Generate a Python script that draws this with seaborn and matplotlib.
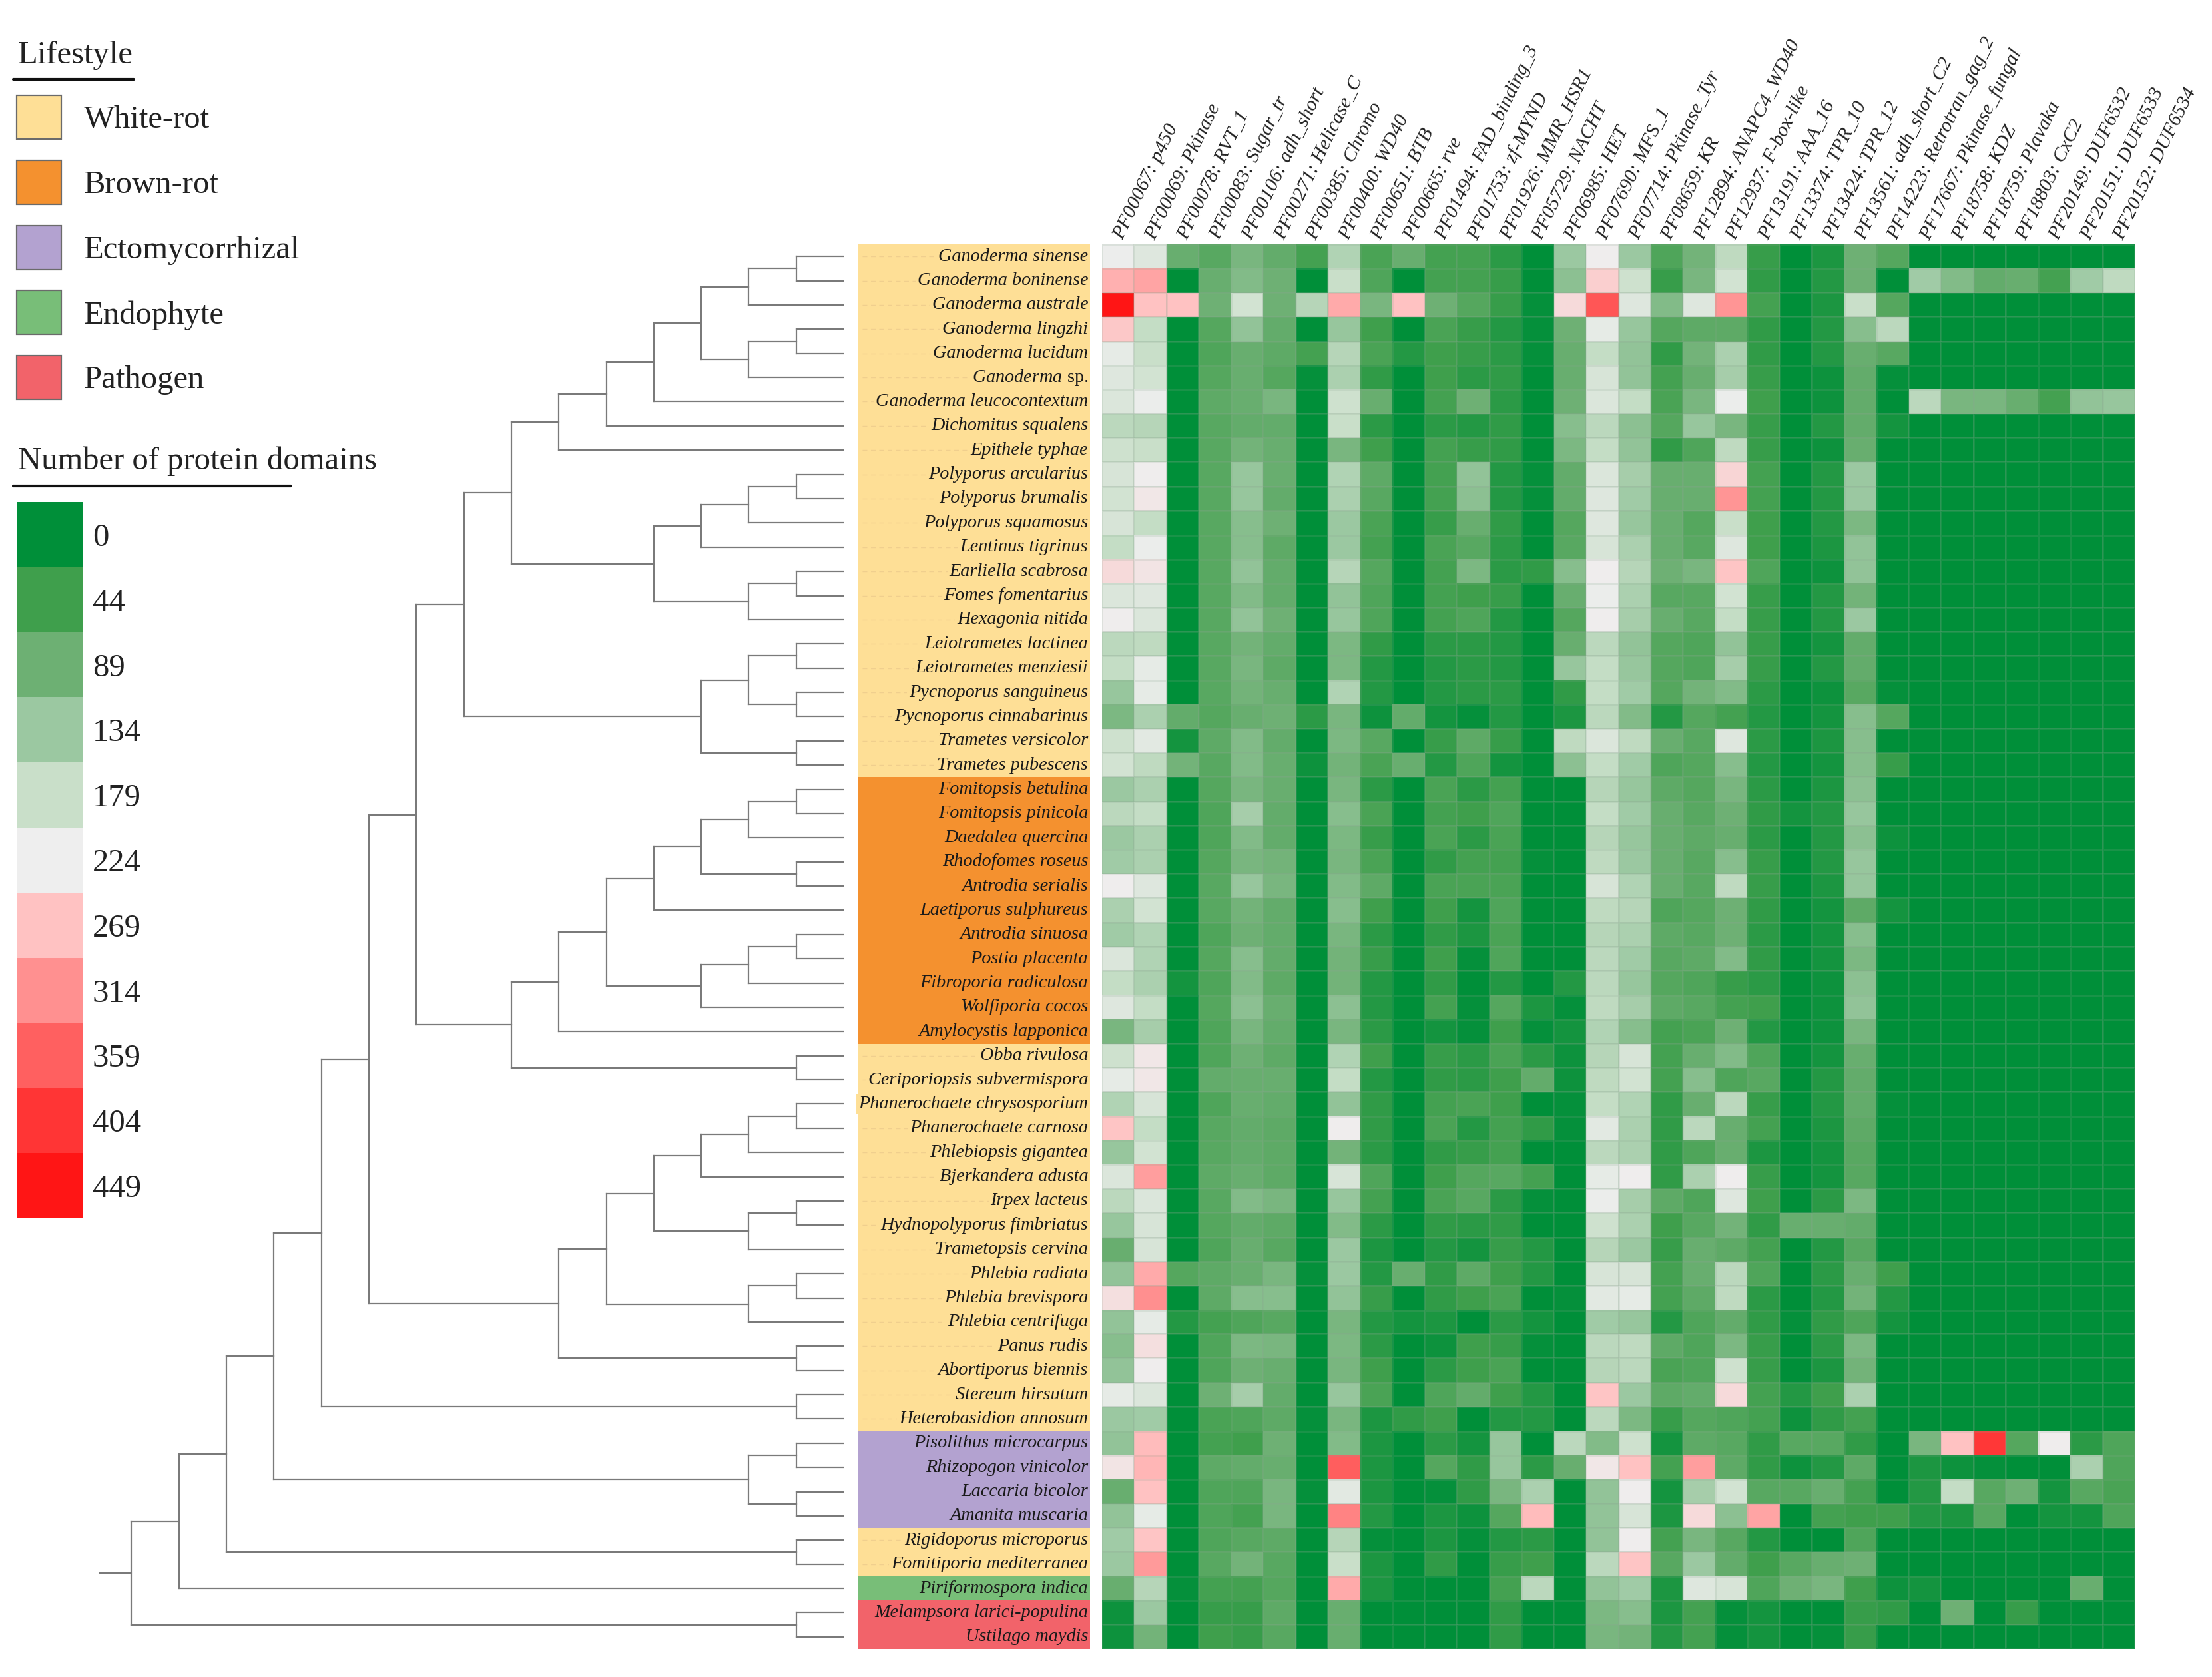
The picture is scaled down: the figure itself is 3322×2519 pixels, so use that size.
# Phylogeny + protein domain heatmap (seaborn)
import pandas as pd
import matplotlib
matplotlib.use('Agg')
import matplotlib.pyplot as plt
import seaborn as sns
from matplotlib.colors import LinearSegmentedColormap, ListedColormap
from matplotlib.patches import Rectangle

# ---------------------------------------------------------------------------
# DATA
# ---------------------------------------------------------------------------
species = [
    'Ganoderma sinense', 'Ganoderma boninense', 'Ganoderma australe', 'Ganoderma lingzhi',
    'Ganoderma lucidum', 'Ganoderma sp.', 'Ganoderma leucocontextum', 'Dichomitus squalens',
    'Epithele typhae', 'Polyporus arcularius', 'Polyporus brumalis', 'Polyporus squamosus',
    'Lentinus tigrinus', 'Earliella scabrosa', 'Fomes fomentarius', 'Hexagonia nitida',
    'Leiotrametes lactinea', 'Leiotrametes menziesii', 'Pycnoporus sanguineus',
    'Pycnoporus cinnabarinus', 'Trametes versicolor', 'Trametes pubescens',
    'Fomitopsis betulina', 'Fomitopsis pinicola', 'Daedalea quercina', 'Rhodofomes roseus',
    'Antrodia serialis', 'Laetiporus sulphureus', 'Antrodia sinuosa', 'Postia placenta',
    'Fibroporia radiculosa', 'Wolfiporia cocos', 'Amylocystis lapponica', 'Obba rivulosa',
    'Ceriporiopsis subvermispora', 'Phanerochaete chrysosporium', 'Phanerochaete carnosa',
    'Phlebiopsis gigantea', 'Bjerkandera adusta', 'Irpex lacteus', 'Hydnopolyporus fimbriatus',
    'Trametopsis cervina', 'Phlebia radiata', 'Phlebia brevispora', 'Phlebia centrifuga',
    'Panus rudis', 'Abortiporus biennis', 'Stereum hirsutum', 'Heterobasidion annosum',
    'Pisolithus microcarpus', 'Rhizopogon vinicolor', 'Laccaria bicolor', 'Amanita muscaria',
    'Rigidoporus microporus', 'Fomitiporia mediterranea', 'Piriformospora indica',
    'Melampsora larici-populina', 'Ustilago maydis',
]

# lifestyle group and how many consecutive species belong to it, top to bottom
lifestyle_runs = [('White-rot', 22), ('Brown-rot', 11), ('White-rot', 16), ('Ectomycorrhizal', 4),
                  ('White-rot', 2), ('Endophyte', 1), ('Pathogen', 2)]
lifestyle_names = ['White-rot', 'Brown-rot', 'Ectomycorrhizal', 'Endophyte', 'Pathogen']
lifestyle_colors = ['#FEDF96', '#F4912F', '#B3A2D0', '#78BE78', '#F2636A']

domains = [
    'PF00067: p450', 'PF00069: Pkinase', 'PF00078: RVT_1', 'PF00083: Sugar_tr',
    'PF00106: adh_short', 'PF00271: Helicase_C', 'PF00385: Chromo', 'PF00400: WD40',
    'PF00651: BTB', 'PF00665: rve', 'PF01494: FAD_binding_3', 'PF01753: zf-MYND',
    'PF01926: MMR_HSR1', 'PF05729: NACHT', 'PF06985: HET', 'PF07690: MFS_1',
    'PF07714: Pkinase_Tyr', 'PF08659: KR', 'PF12894: ANAPC4_WD40', 'PF12937: F-box-like',
    'PF13191: AAA_16', 'PF13374: TPR_10', 'PF13424: TPR_12', 'PF13561: adh_short_C2',
    'PF14223: Retrotran_gag_2', 'PF17667: Pkinase_fungal', 'PF18758: KDZ', 'PF18759: Plavaka',
    'PF18803: CxC2', 'PF20149: DUF6532', 'PF20151: DUF6533', 'PF20152: DUF6534',
]

# counts per domain (one list per column, top species first)
p450 = [222,285,449,262,215,205,200,165,185,195,190,195,175,245,200,225,165,175,130,105,
        185,190,135,165,135,140,225,150,140,200,175,205,100,185,215,155,265,130,200,165,
        130,85,125,240,125,115,125,215,135,125,235,85,125,140,135,85,10,10]
pkinase = [205,295,270,175,180,190,220,160,180,225,230,175,220,235,205,200,170,215,215,150,
           210,170,150,175,150,150,205,190,155,155,150,175,145,230,230,195,175,190,300,200,
           195,195,290,315,215,240,225,200,140,275,280,270,215,265,305,160,135,95]
rvt_1 = [85,0,270,0,0,0,0,0,0,0,0,0,0,0,0,0,0,0,0,80,
         15,95,0,0,0,0,0,0,0,0,15,0,0,0,0,0,0,0,0,0,
         0,0,65,0,25,0,0,0,0,0,0,0,0,0,0,5,0,0]
sugar_tr = [70,85,90,65,60,65,75,70,70,70,70,70,70,70,70,70,70,70,70,65,
            75,70,65,60,60,65,70,70,60,65,60,65,60,60,80,60,70,70,75,70,
            65,60,75,75,50,60,60,90,55,50,75,60,60,60,70,50,40,45]
adh_short = [100,110,190,125,85,85,85,80,95,130,130,115,115,125,110,125,95,100,95,85,
             110,110,100,145,110,100,130,95,90,115,110,120,100,90,85,85,80,80,85,110,
             80,85,85,115,60,105,90,145,60,45,80,60,50,70,95,50,40,40]
helicase_c = [80,90,90,80,75,65,100,80,85,85,80,90,75,80,80,90,80,75,85,90,
              80,85,85,80,80,95,100,80,80,80,75,85,80,75,85,80,75,75,75,100,
              75,70,100,115,70,100,85,80,75,90,85,100,100,75,70,65,75,70]
chromo = [50,0,160,0,50,5,0,0,0,0,0,0,0,0,0,0,0,0,0,30,
          0,10,0,0,0,0,0,0,0,0,0,0,0,0,0,0,0,0,0,0,
          0,0,5,0,0,0,0,0,5,0,0,5,0,0,0,0,0,0]
wd40 = [155,180,290,130,160,150,185,180,100,155,150,135,135,160,125,130,105,105,155,100,
        105,95,100,115,105,100,110,115,100,95,95,120,100,155,175,125,225,95,195,130,
        110,135,135,125,100,105,100,130,100,110,360,210,325,160,180,290,85,85]
btb = [55,60,100,45,55,35,85,30,45,75,70,55,50,65,60,60,35,25,25,10,
       70,55,30,55,40,55,75,45,30,40,25,25,30,45,25,35,35,30,60,50,
       30,20,25,40,25,30,45,55,20,20,20,20,25,5,20,20,0,0]
rve = [85,0,270,0,25,0,0,0,0,0,0,0,0,0,0,0,0,0,0,80,
       0,85,0,0,0,0,0,0,0,0,0,0,0,0,0,0,0,0,0,0,
       0,0,85,0,15,0,0,0,35,0,0,0,0,0,0,0,0,0]
fad_binding_3 = [50,50,90,55,45,45,50,30,50,50,50,40,55,50,50,50,30,25,25,15,
                 40,25,55,50,55,35,55,45,35,45,35,50,15,40,35,50,55,35,45,55,
                 35,25,35,35,20,10,30,60,45,30,65,5,20,20,35,0,0,0]
zf_mynd = [50,50,65,40,40,30,90,25,40,125,120,85,70,105,45,60,30,30,30,5,
           75,60,30,45,30,50,55,15,20,5,0,5,5,30,30,55,25,40,65,70,
           30,15,75,45,0,45,45,80,0,15,35,35,10,5,0,0,0,0]
mmr_hsr1 = [30,40,40,25,30,35,30,35,35,25,25,35,30,30,40,25,25,25,30,25,
            40,15,50,60,55,50,55,60,55,60,25,65,45,55,45,45,50,50,70,30,
            35,40,45,55,30,40,55,45,25,130,130,100,65,25,40,50,35,35]
nacht = [0,0,5,5,5,0,0,0,0,5,5,0,0,35,0,0,0,0,0,0,
         0,0,0,0,0,5,0,0,0,0,0,20,5,30,80,0,35,0,50,5,
         0,25,25,0,15,5,0,25,25,0,30,150,275,30,45,165,0,0]
het = [135,120,245,90,85,85,90,115,105,80,80,65,70,115,85,65,85,130,35,20,
       170,120,0,0,0,0,0,0,0,0,25,5,15,10,10,5,5,0,0,0,
       0,0,0,5,0,0,0,0,0,165,85,0,0,0,0,0,0,0]
mfs_1 = [225,255,370,215,175,195,200,165,175,200,205,205,195,225,220,225,165,175,175,165,
         200,175,160,175,160,170,195,170,160,165,165,170,155,160,170,175,210,165,215,220,
         185,160,195,210,140,165,160,265,165,110,230,125,125,125,165,125,105,100]
pkinase_tyr = [135,185,205,130,125,125,175,120,125,145,140,130,150,160,150,145,125,130,140,110,
               170,140,130,140,130,135,155,160,150,140,130,145,115,195,190,155,150,150,225,145,
               150,135,195,215,130,170,165,135,105,185,270,225,195,225,265,140,115,95]
kr = [60,40,110,65,35,50,55,65,35,85,85,85,85,90,70,85,65,65,65,25,
      85,60,75,85,85,85,85,60,75,70,65,75,50,50,50,35,35,35,35,75,
      45,40,50,50,25,75,55,75,40,15,50,15,20,50,70,20,20,25]
anapc4_wd40 = [95,100,205,75,95,85,100,130,60,85,85,65,70,100,70,70,60,60,95,65,
               70,65,65,70,75,70,70,65,70,75,60,70,55,85,115,85,165,60,150,60,
               70,85,85,75,60,60,60,80,65,75,300,145,245,100,135,205,50,50]
f_box_like = [170,190,310,75,150,145,220,100,170,250,310,180,205,265,190,175,125,145,110,50,
              205,115,100,90,85,115,170,90,90,110,40,50,90,110,60,165,85,85,225,205,
              95,75,165,170,80,105,185,245,60,70,75,190,120,70,80,195,5,5]
aaa_16 = [40,35,50,35,35,40,45,40,40,50,50,45,45,60,40,40,40,40,30,25,
          30,25,30,35,30,40,40,35,30,35,30,45,25,60,70,40,50,20,40,45,
          35,50,60,30,35,40,40,50,50,35,35,70,295,25,45,60,15,15]
tpr_10 = [0,0,0,0,0,0,0,0,0,0,0,0,0,0,0,0,0,0,0,0,
          0,0,0,15,0,0,0,0,0,0,0,0,0,0,0,0,0,0,0,0,
          85,0,0,0,5,0,0,25,10,70,10,70,0,0,70,90,0,0]
tpr_12 = [20,25,20,25,25,10,10,25,10,25,25,25,20,10,25,25,15,25,10,15,
          20,15,20,25,25,25,20,15,15,15,10,10,10,15,25,25,20,15,15,30,
          85,25,30,25,35,30,20,45,35,70,25,85,50,0,85,100,0,5]
adh_short_c2 = [90,90,180,115,85,80,80,80,85,135,135,105,125,125,95,135,80,80,70,115,
                115,115,120,130,120,130,130,75,115,105,120,125,100,85,80,80,75,70,70,105,
                80,70,85,95,60,105,95,150,50,35,75,50,45,60,90,45,40,40]
retrotran_gag_2 = [65,0,65,165,70,5,0,15,0,0,0,0,0,0,0,0,0,0,5,65,
                   0,40,0,0,10,0,0,15,0,0,0,0,0,0,0,5,0,0,0,0,
                   0,0,45,25,15,0,0,0,0,0,0,0,45,0,0,10,35,0]
pkinase_fungal = [0,140,0,0,0,0,165,0,0,0,0,0,0,0,0,0,0,0,0,0,
                  0,0,0,0,0,0,0,0,0,0,0,0,0,0,0,0,0,0,0,0,
                  0,0,0,0,0,0,0,0,0,100,20,25,25,0,0,15,0,0]
kdz = [0,110,0,0,0,0,100,0,0,0,0,0,0,0,0,0,0,0,0,0,
       0,0,0,0,0,0,0,0,0,0,0,0,0,0,0,0,0,0,0,0,
       0,0,0,0,0,0,0,0,0,270,10,175,20,0,0,0,90,0]
plavaka = [0,80,0,0,0,0,100,0,0,0,0,0,0,0,0,0,0,0,0,0,
           0,0,0,0,0,0,0,0,0,0,0,0,0,0,0,0,0,0,0,0,
           0,0,0,0,0,0,0,0,0,400,5,70,70,0,0,0,0,0]
cxc2 = [0,85,0,0,0,0,85,0,0,0,0,0,0,0,0,0,0,0,0,0,
        0,0,0,0,0,0,0,0,0,0,0,0,0,0,0,0,0,0,0,0,
        0,0,0,0,0,0,0,0,0,65,0,90,0,0,0,0,40,0]
duf6532 = [0,50,0,0,0,0,50,0,0,0,0,0,0,0,0,0,0,0,0,0,
           0,0,0,0,0,0,0,0,0,0,0,0,0,0,0,0,0,0,0,0,
           0,0,0,0,0,0,0,0,0,225,0,15,15,0,0,0,0,0]
duf6533 = [0,140,0,0,0,0,125,0,0,0,0,0,0,0,0,0,0,0,0,0,
           0,0,0,0,0,0,0,0,0,0,0,0,0,0,0,0,0,0,0,0,
           0,0,0,0,0,0,0,0,0,30,150,70,15,0,0,85,0,0]
duf6534 = [0,170,0,0,0,0,130,0,0,0,0,0,0,0,0,0,0,0,0,0,
           0,0,0,0,0,0,0,0,0,0,0,0,0,0,0,0,0,0,0,0,
           0,0,0,0,0,0,0,0,0,60,60,55,60,0,0,0,0,0]

domain_counts = [p450, pkinase, rvt_1, sugar_tr, adh_short, helicase_c, chromo, wd40, btb, rve,
                 fad_binding_3, zf_mynd, mmr_hsr1, nacht, het, mfs_1, pkinase_tyr, kr, anapc4_wd40,
                 f_box_like, aaa_16, tpr_10, tpr_12, adh_short_c2, retrotran_gag_2, pkinase_fungal,
                 kdz, plavaka, cxc2, duf6532, duf6533, duf6534]

# legend levels and their colours
scale_levels = [0, 44, 89, 134, 179, 224, 269, 314, 359, 404, 449]
scale_colors = ['#008F39', '#3F9F4C', '#6DB073', '#9BC8A1', '#C9DFC9', '#EEEEEE',
                '#FFC2C2', '#FF9090', '#FF6060', '#FF3535', '#FF1515']

# tree as nested pairs, leaves are indexes into species (same top-to-bottom order)
ganoderma = [[[[[[0, 1], 2], [[3, 4], 5]], 6], 7], 8]
polyporus = [[[[9, 10], 11], 12], [[13, 14], 15]]
trametes = [[[16, 17], [18, 19]], [20, 21]]
brown_a = [[[[22, 23], 24], [25, 26]], 27]
brown_b = [[[28, 29], 30], 31]
brown_rot = [[[brown_a, brown_b], 32], [33, 34]]
phanero_a = [[[[35, 36], 37], 38], [[39, 40], 41]]
phanero = [[phanero_a, [[42, 43], 44]], [45, 46]]
ecto = [[49, 50], [51, 52]]
clade_8 = [[ganoderma, polyporus], trametes]
clade_10 = [[clade_8, brown_rot], phanero]
clade_12 = [[clade_10, [47, 48]], ecto]
tree = [[[clade_12, [53, 54]], 55], [56, 57]]

# ---------------------------------------------------------------------------
# SETUP
# ---------------------------------------------------------------------------
sns.set_theme(style='white')
plt.rcParams['font.family'] = ['Liberation Serif', 'DejaVu Serif']
plt.rcParams['mathtext.fontset'] = 'custom'
plt.rcParams['mathtext.it'] = 'Liberation Serif:italic'
plt.rcParams['mathtext.rm'] = 'Liberation Serif'

W, H = 3322, 2519
fig = plt.figure(figsize=(W / 200, H / 200), dpi=200, facecolor='white')


def px_axes(left, top, right, bottom):
    # axes placed with reference pixel coordinates
    return fig.add_axes([left / W, 1 - bottom / H, (right - left) / W, (bottom - top) / H])


HEAT_TOP, HEAT_BOTTOM = 367, 2477
domain_cmap = LinearSegmentedColormap.from_list(
    'domains', [(v / 449, c) for v, c in zip(scale_levels, scale_colors)])

# ---------------------------------------------------------------------------
# HEATMAP
# ---------------------------------------------------------------------------
ax_heat = px_axes(1655, HEAT_TOP, 3206, HEAT_BOTTOM)
df = pd.DataFrame(dict(zip(domains, domain_counts)), index=species)
sns.heatmap(df, ax=ax_heat, cmap=domain_cmap, vmin=0, vmax=449, cbar=False,
            linewidths=0.4, linecolor=(0.55, 0.65, 0.57, 0.18), yticklabels=False)
ax_heat.xaxis.tick_top()
ax_heat.set_xlabel('')
ax_heat.set_ylabel('')
ax_heat.tick_params(axis='x', length=0, pad=3)
ax_heat.set_xticklabels(domains, rotation=64, ha='left', va='center', rotation_mode='anchor',
                        fontsize=10.8, fontstyle='italic', color='#222222')

# ---------------------------------------------------------------------------
# LIFESTYLE STRIP WITH SPECIES NAMES
# ---------------------------------------------------------------------------
ax_strip = px_axes(1288, HEAT_TOP, 1637, HEAT_BOTTOM)
lifestyle_codes = []
for name, n in lifestyle_runs:
    lifestyle_codes += [lifestyle_names.index(name)] * n
sns.heatmap(pd.DataFrame({'lifestyle': lifestyle_codes}), ax=ax_strip, cbar=False,
            cmap=ListedColormap(lifestyle_colors), vmin=-0.5, vmax=4.5,
            xticklabels=False, yticklabels=False)
ax_strip.set_ylabel('')
for i, name in enumerate(species):
    strip_color = lifestyle_colors[lifestyle_codes[i]]
    ax_strip.plot([0.02, 0.9], [i + 0.5, i + 0.5], lw=0.5, ls=(0, (5, 4)), zorder=2,
                  color='#F0CF8E' if lifestyle_codes[i] == 0 else strip_color)
    if name.endswith(' sp.'):
        shown, style = r'$\mathit{Ganoderma}$ sp.', 'normal'
    else:
        shown, style = name, 'italic'
    ax_strip.text(0.992, i + 0.5, shown, ha='right', va='center', fontsize=10.2, fontstyle=style,
                  color='#1a1a1a', zorder=3,
                  bbox=dict(facecolor=strip_color, edgecolor='none', pad=1.0))

# ---------------------------------------------------------------------------
# TREE
# ---------------------------------------------------------------------------
ax_tree = px_axes(149, HEAT_TOP, 1267, HEAT_BOTTOM)
ax_tree.set_ylim(len(species), 0)
ax_tree.set_xlim((1267 - 149) / 71.3, 0)
ax_tree.axis('off')
TREE_COLOR = '#7a7a7a'


def draw_clade(node):
    # returns (height, y) of the node, height counted in steps from the tips
    if not isinstance(node, list):
        return 0, node + 0.5
    children = [draw_clade(child) for child in node]
    height = max(c[0] for c in children) + 1
    ys = [c[1] for c in children]
    for h, y in children:
        ax_tree.plot([height, h], [y, y], color=TREE_COLOR, lw=0.8, solid_capstyle='projecting')
    ax_tree.plot([height, height], [min(ys), max(ys)], color=TREE_COLOR, lw=0.8,
                 solid_capstyle='projecting')
    return height, sum(ys) / len(ys)


root_height, root_y = draw_clade(tree)
ax_tree.plot([root_height, (1267 - 149) / 71.3], [root_y, root_y], color=TREE_COLOR, lw=0.8)

# ---------------------------------------------------------------------------
# LEGENDS
# ---------------------------------------------------------------------------
ax_page = fig.add_axes([0, 0, 1, 1], zorder=-1)
ax_page.set_xlim(0, W)
ax_page.set_ylim(H, 0)
ax_page.axis('off')

ax_page.text(27, 83, 'Lifestyle', fontsize=17.5, va='center', color='#222222')
ax_page.plot([20, 201], [119, 119], color='#111111', lw=1.5)
for i, (name, color) in enumerate(zip(lifestyle_names, lifestyle_colors)):
    top = 143 + i * 97.8
    ax_page.add_patch(Rectangle((25, top), 67, 66, facecolor=color, edgecolor='#6b6b6b', lw=0.8))
    ax_page.text(126, top + 37, name, fontsize=17.5, va='center', color='#222222')

ax_page.text(27, 693, 'Number of protein domains', fontsize=17.5, va='center', color='#222222')
ax_page.plot([20, 437], [730, 730], color='#111111', lw=1.5)

ax_scale = px_axes(25, 754, 125, 1830)
sns.heatmap(pd.DataFrame({'n': scale_levels}, index=scale_levels), ax=ax_scale, cbar=False,
            cmap=ListedColormap(scale_colors), vmin=-22, vmax=471, xticklabels=False)
ax_scale.set_ylabel('')
ax_scale.yaxis.tick_right()
ax_scale.tick_params(axis='y', length=0, pad=5, labelsize=17.5, labelcolor='#222222')
plt.setp(ax_scale.get_yticklabels(), rotation=0, va='center_baseline')

fig.savefig('out.png', dpi=200, facecolor='white')
plt.close(fig)
